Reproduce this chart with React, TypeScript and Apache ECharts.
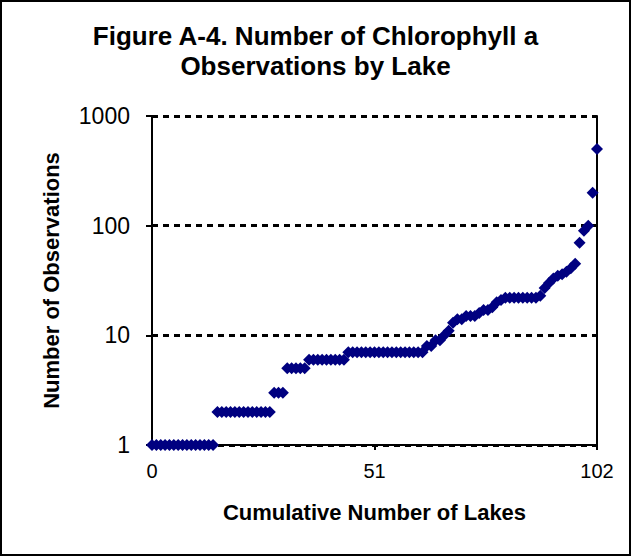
import React, { useEffect, useRef } from "react";
import * as echarts from "echarts";

// Number of chlorophyll a observations per lake, sorted ascending
const observations: number[] = [
  1, 1, 1, 1, 1, 1, 1, 1, 1, 1, 1, 1, 1, 1, 1,
  2, 2, 2, 2, 2, 2, 2, 2, 2, 2, 2, 2, 2,
  3, 3, 3,
  5, 5, 5, 5, 5,
  6, 6, 6, 6, 6, 6, 6, 6, 6,
  7, 7, 7, 7, 7, 7, 7, 7, 7, 7, 7, 7, 7, 7, 7, 7, 7, 7,
  8, 8, 9, 9, 10, 11, 13, 14, 14, 15, 15, 15, 16, 17, 17, 18, 20, 21,
  22, 22, 22, 22, 22, 22, 22, 22, 23, 27, 30, 33, 35, 36, 38, 41, 45,
  70, 90, 100, 200, 500,
];

const xTicks: number[] = [0, 51, 102];
const yTicks: number[] = [1, 10, 100, 1000];

const titleText = "Figure A-4. Number of Chlorophyll a\nObservations by Lake";
const xName = "Cumulative Number of Lakes";
const yName = "Number of Observations";

const FONT = "Liberation Sans, Arial, sans-serif";

export default function App() {
  const ref = useRef<HTMLDivElement>(null);

  useEffect(() => {
    if (!ref.current) return;
    const chart = echarts.init(ref.current, null, { renderer: "svg" });
    const points = observations.map((v, i) => [i, v]);
    chart.setOption({
      animation: false,
      backgroundColor: "#ffffff",
      title: {
        text: titleText,
        left: "center",
        top: 16,
        textStyle: {
          fontFamily: FONT,
          fontSize: 26,
          fontWeight: "bold",
          lineHeight: 30,
          color: "#000000",
        },
      },
      graphic: [
        {
          type: "rect",
          shape: { x: 1, y: 1, width: 629, height: 554 },
          style: { fill: "none", stroke: "#000000", lineWidth: 2 },
          silent: true,
        },
      ],
      grid: { left: 152, right: 34, top: 116, bottom: 111 },
      xAxis: {
        type: "value",
        min: xTicks[0],
        max: xTicks[xTicks.length - 1],
        interval: xTicks[1] - xTicks[0],
        name: xName,
        nameLocation: "middle",
        nameGap: 56,
        nameTextStyle: {
          fontFamily: FONT,
          fontSize: 22,
          fontWeight: "bold",
          color: "#000000",
        },
        axisLine: { show: true, lineStyle: { color: "#000000", width: 2 } },
        axisTick: { show: true, inside: false, length: 5, lineStyle: { color: "#000000", width: 2 } },
        axisLabel: {
          margin: 16,
          fontFamily: FONT,
          fontSize: 20,
          color: "#000000",
        },
        splitLine: { show: false },
      },
      yAxis: [
        {
          type: "log",
          logBase: 10,
          min: yTicks[0],
          max: yTicks[yTicks.length - 1],
          name: yName,
          nameLocation: "middle",
          nameGap: 90,
          nameTextStyle: {
            fontFamily: FONT,
            fontSize: 22,
            fontWeight: "bold",
            color: "#000000",
          },
          axisLine: { show: true, lineStyle: { color: "#000000", width: 2 } },
          axisTick: { show: true, inside: false, length: 6, lineStyle: { color: "#000000", width: 2 } },
          minorTick: { show: false },
          axisLabel: {
            margin: 22,
            fontFamily: FONT,
            fontSize: 23,
            color: "#000000",
            formatter: (v: number) => String(Math.round(v)),
          },
          splitLine: {
            show: true,
            lineStyle: { color: "#000000", width: 3, type: [6, 5] },
          },
        },
        {
          type: "log",
          logBase: 10,
          min: yTicks[0],
          max: yTicks[yTicks.length - 1],
          position: "right",
          axisLine: { show: true, lineStyle: { color: "#000000", width: 2 } },
          axisTick: { show: false },
          axisLabel: { show: false },
          splitLine: { show: false },
        },
      ],
      series: [
        {
          type: "scatter",
          yAxisIndex: 0,
          data: points,
          symbol: "diamond",
          symbolSize: [12, 12],
          itemStyle: { color: "#000080", opacity: 1 },
        },
      ],
    });
    return () => chart.dispose();
  }, []);

  return (
    <div
      ref={ref}
      style={{ position: "absolute", left: 0, top: 0, width: 631, height: 556 }}
    />
  );
}
